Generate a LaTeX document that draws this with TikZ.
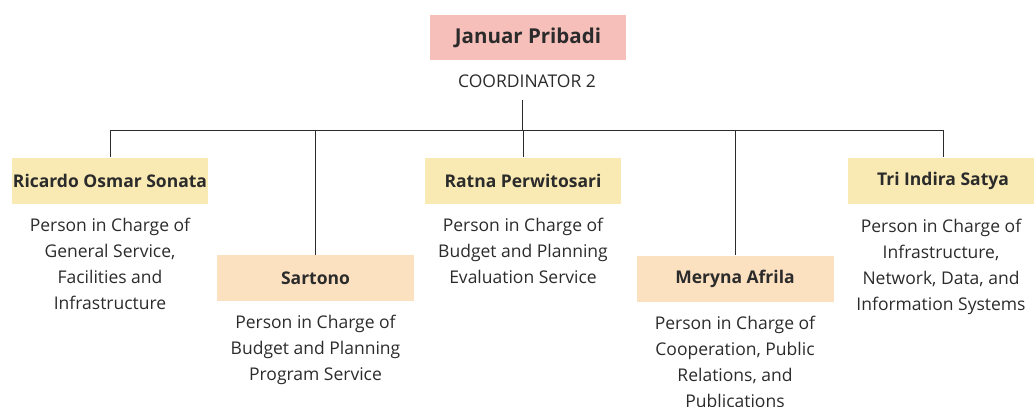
\documentclass[tikz,border=0pt]{standalone}
\usepackage{fontspec}
\setmainfont{Open Sans}
\usetikzlibrary{positioning}

\definecolor{headpink}{HTML}{F7BFBA}
\definecolor{staffyellow}{HTML}{F9E9B3}
\definecolor{staffpeach}{HTML}{FCE1C1}
\definecolor{inkgray}{HTML}{2B2B2B}

\tikzset{
  namebox/.style={minimum width=196pt, minimum height=46pt, inner sep=0pt,
    font=\fontsize{17.5}{20}\selectfont\bfseries, text=inkgray},
  desc/.style={align=center, inner sep=0pt, text=inkgray,
    font=\fontsize{17.5}{26}\selectfont},
  link/.style={line width=1pt, inkgray}
}

\begin{document}
\begin{tikzpicture}[x=1pt,y=-1pt]
 \useasboundingbox (0,0) rectangle (1034,407);
 % head of the unit
 \node[namebox,fill=headpink,minimum height=45pt,font=\fontsize{20.5}{22}\selectfont\bfseries] (head) at (528,37.5) {Januar Pribadi};
 \node[font=\fontsize{17.5}{19}\selectfont,text=inkgray] (coord) at (527,81) {COORDINATOR 2};
 \coordinate (busTop) at (522,100);
 \coordinate (bus) at (522,130);
 % the five persons in charge
 \node[namebox,fill=staffyellow] (ric) at (110,180.5) {Ricardo Osmar Sonata};
 \node[namebox,fill=staffpeach,minimum width=197pt] (sar) at (315.5,278) {Sartono};
 \node[namebox,fill=staffyellow] (rat) at (523,180.5) {Ratna Perwitosari};
 \node[namebox,fill=staffpeach,minimum width=197pt] (mer) at (735,278.5) {Meryna Afrila};
 \node[namebox,fill=staffyellow,minimum width=190pt] (tri) at (943,180.5) {Tri Indira Satya};
 % their tasks
 \node[desc,below=14pt of ric] (ricTask) {Person in Charge of\\General Service,\\Facilities and\\Infrastructure};
 \node[desc,below=14pt of sar] (sarTask) {Person in Charge of\\Budget and Planning\\Program Service};
 \node[desc,below=14pt of rat] (ratTask) {Person in Charge of\\Budget and Planning\\Evaluation Service};
 \node[desc,below=14pt of mer] (merTask) {Person in Charge of\\Cooperation, Public\\Relations, and\\Publications};
 \node[desc,below=15pt of tri,xshift=-2pt] (triTask) {Person in Charge of\\Infrastructure,\\Network, Data, and\\Information Systems};
 % connectors
 \draw[link] (busTop) -- (bus);
 \draw[link] (ric.north) -- (ric.north |- bus) -- (tri.north |- bus) -- (tri.north);
 \draw[link] (sar.north) -- (sar.north |- bus);
 \draw[link] (rat.north) -- (rat.north |- bus);
 \draw[link] (mer.north) -- (mer.north |- bus);
\end{tikzpicture}
\end{document}
